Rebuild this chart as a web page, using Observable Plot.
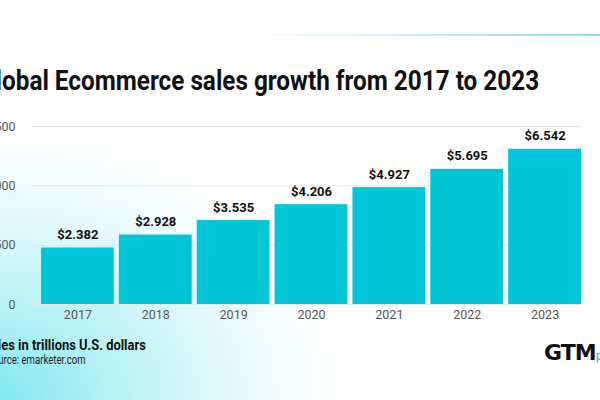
<!DOCTYPE html>
<html>
<head>
<meta charset="utf-8">
<script src="https://cdn.jsdelivr.net/npm/d3@7"></script>
<script src="https://cdn.jsdelivr.net/npm/@observablehq/plot@0.6"></script>
<style>
  html, body { margin: 0; padding: 0; }
  #wrap {
    position: relative; width: 600px; height: 400px; overflow: hidden;
    background: radial-gradient(ellipse 340px 270px at 0% 100%, #84e8f0 0%, #bff3f7 40%, #ecfbfc 75%, #ffffff 100%);
    font-family: Roboto, sans-serif;
  }
  #topline { position: absolute; left: 250px; top: 34px; width: 350px; height: 2px;
    background: linear-gradient(to right, rgba(120,220,235,0), rgba(120,220,235,0.9)); }
  #title { position: absolute; left: -21px; top: 65px; font-size: 27px; font-weight: bold; color: #111; white-space: nowrap; transform: scaleX(0.9); transform-origin: 0 0; }
  #chart { position: absolute; left: -20px; top: 100px; }
  #note { position: absolute; left: -17px; top: 336px; font-size: 15px; font-weight: bold; color: #111; white-space: nowrap; transform: scaleX(0.86); transform-origin: 0 0; }
  #source { position: absolute; left: -13px; top: 353px; font-size: 12px; color: #222; white-space: nowrap; transform: scaleX(0.8); transform-origin: 0 0; }
  #logo { position: absolute; left: 544px; top: 340px; font-size: 22px; font-weight: bold; color: #111; white-space: nowrap; font-family: "DejaVu Sans", sans-serif; letter-spacing: -1px; }
  #logo span { color: #1cc3d6; font-size: 12px; font-weight: normal; }
</style>
</head>
<body>
<div id="wrap">
  <div id="topline"></div>
  <div id="title">Global Ecommerce sales growth from 2017 to 2023</div>
  <div id="chart"></div>
  <div id="note">Sales in trillions U.S. dollars</div>
  <div id="source">Source: emarketer.com</div>
  <div id="logo">GTM<span>p</span></div>
</div>
<script>
const years = ["2017", "2018", "2019", "2020", "2021", "2022", "2023"];
const sales = [2.382, 2.928, 3.535, 4.206, 4.927, 5.695, 6.542];
const yTicks = [0, 2.5, 5, 7.5];
const yTickLabels = ["0", "2.500", "5.000", "7.500"];

const data = years.map((y, i) => ({year: y, value: sales[i]}));

const chart = Plot.plot({
  width: 620,
  height: 230,
  marginLeft: 51,
  marginRight: 19,
  marginTop: 26,
  marginBottom: 26,
  style: {background: "transparent", fontFamily: "Roboto, sans-serif", fontSize: "12.5px", color: "#555"},
  x: {domain: years, range: [61, 601], round: false, paddingInner: 0.065, paddingOuter: 0, align: 0.5, label: null, tickSize: 0, tickPadding: 6},
  y: {domain: [0, 7.5], ticks: yTicks, tickFormat: d => yTickLabels[yTicks.indexOf(d)], label: null, tickSize: 0, tickPadding: 16},
  marks: [
    Plot.gridY(yTicks, {stroke: "#e6e6e6", strokeOpacity: 1, strokeWidth: 1}),
    Plot.barY(data, {x: "year", y: "value", fill: "#00c6d8"}),
    Plot.text(data, {x: "year", y: "value", text: d => "$" + d.value.toFixed(3), dy: -9, lineAnchor: "bottom", fontWeight: "bold", fontSize: 13, fill: "#111"})
  ]
});
document.getElementById("chart").appendChild(chart);
</script>
</body>
</html>
